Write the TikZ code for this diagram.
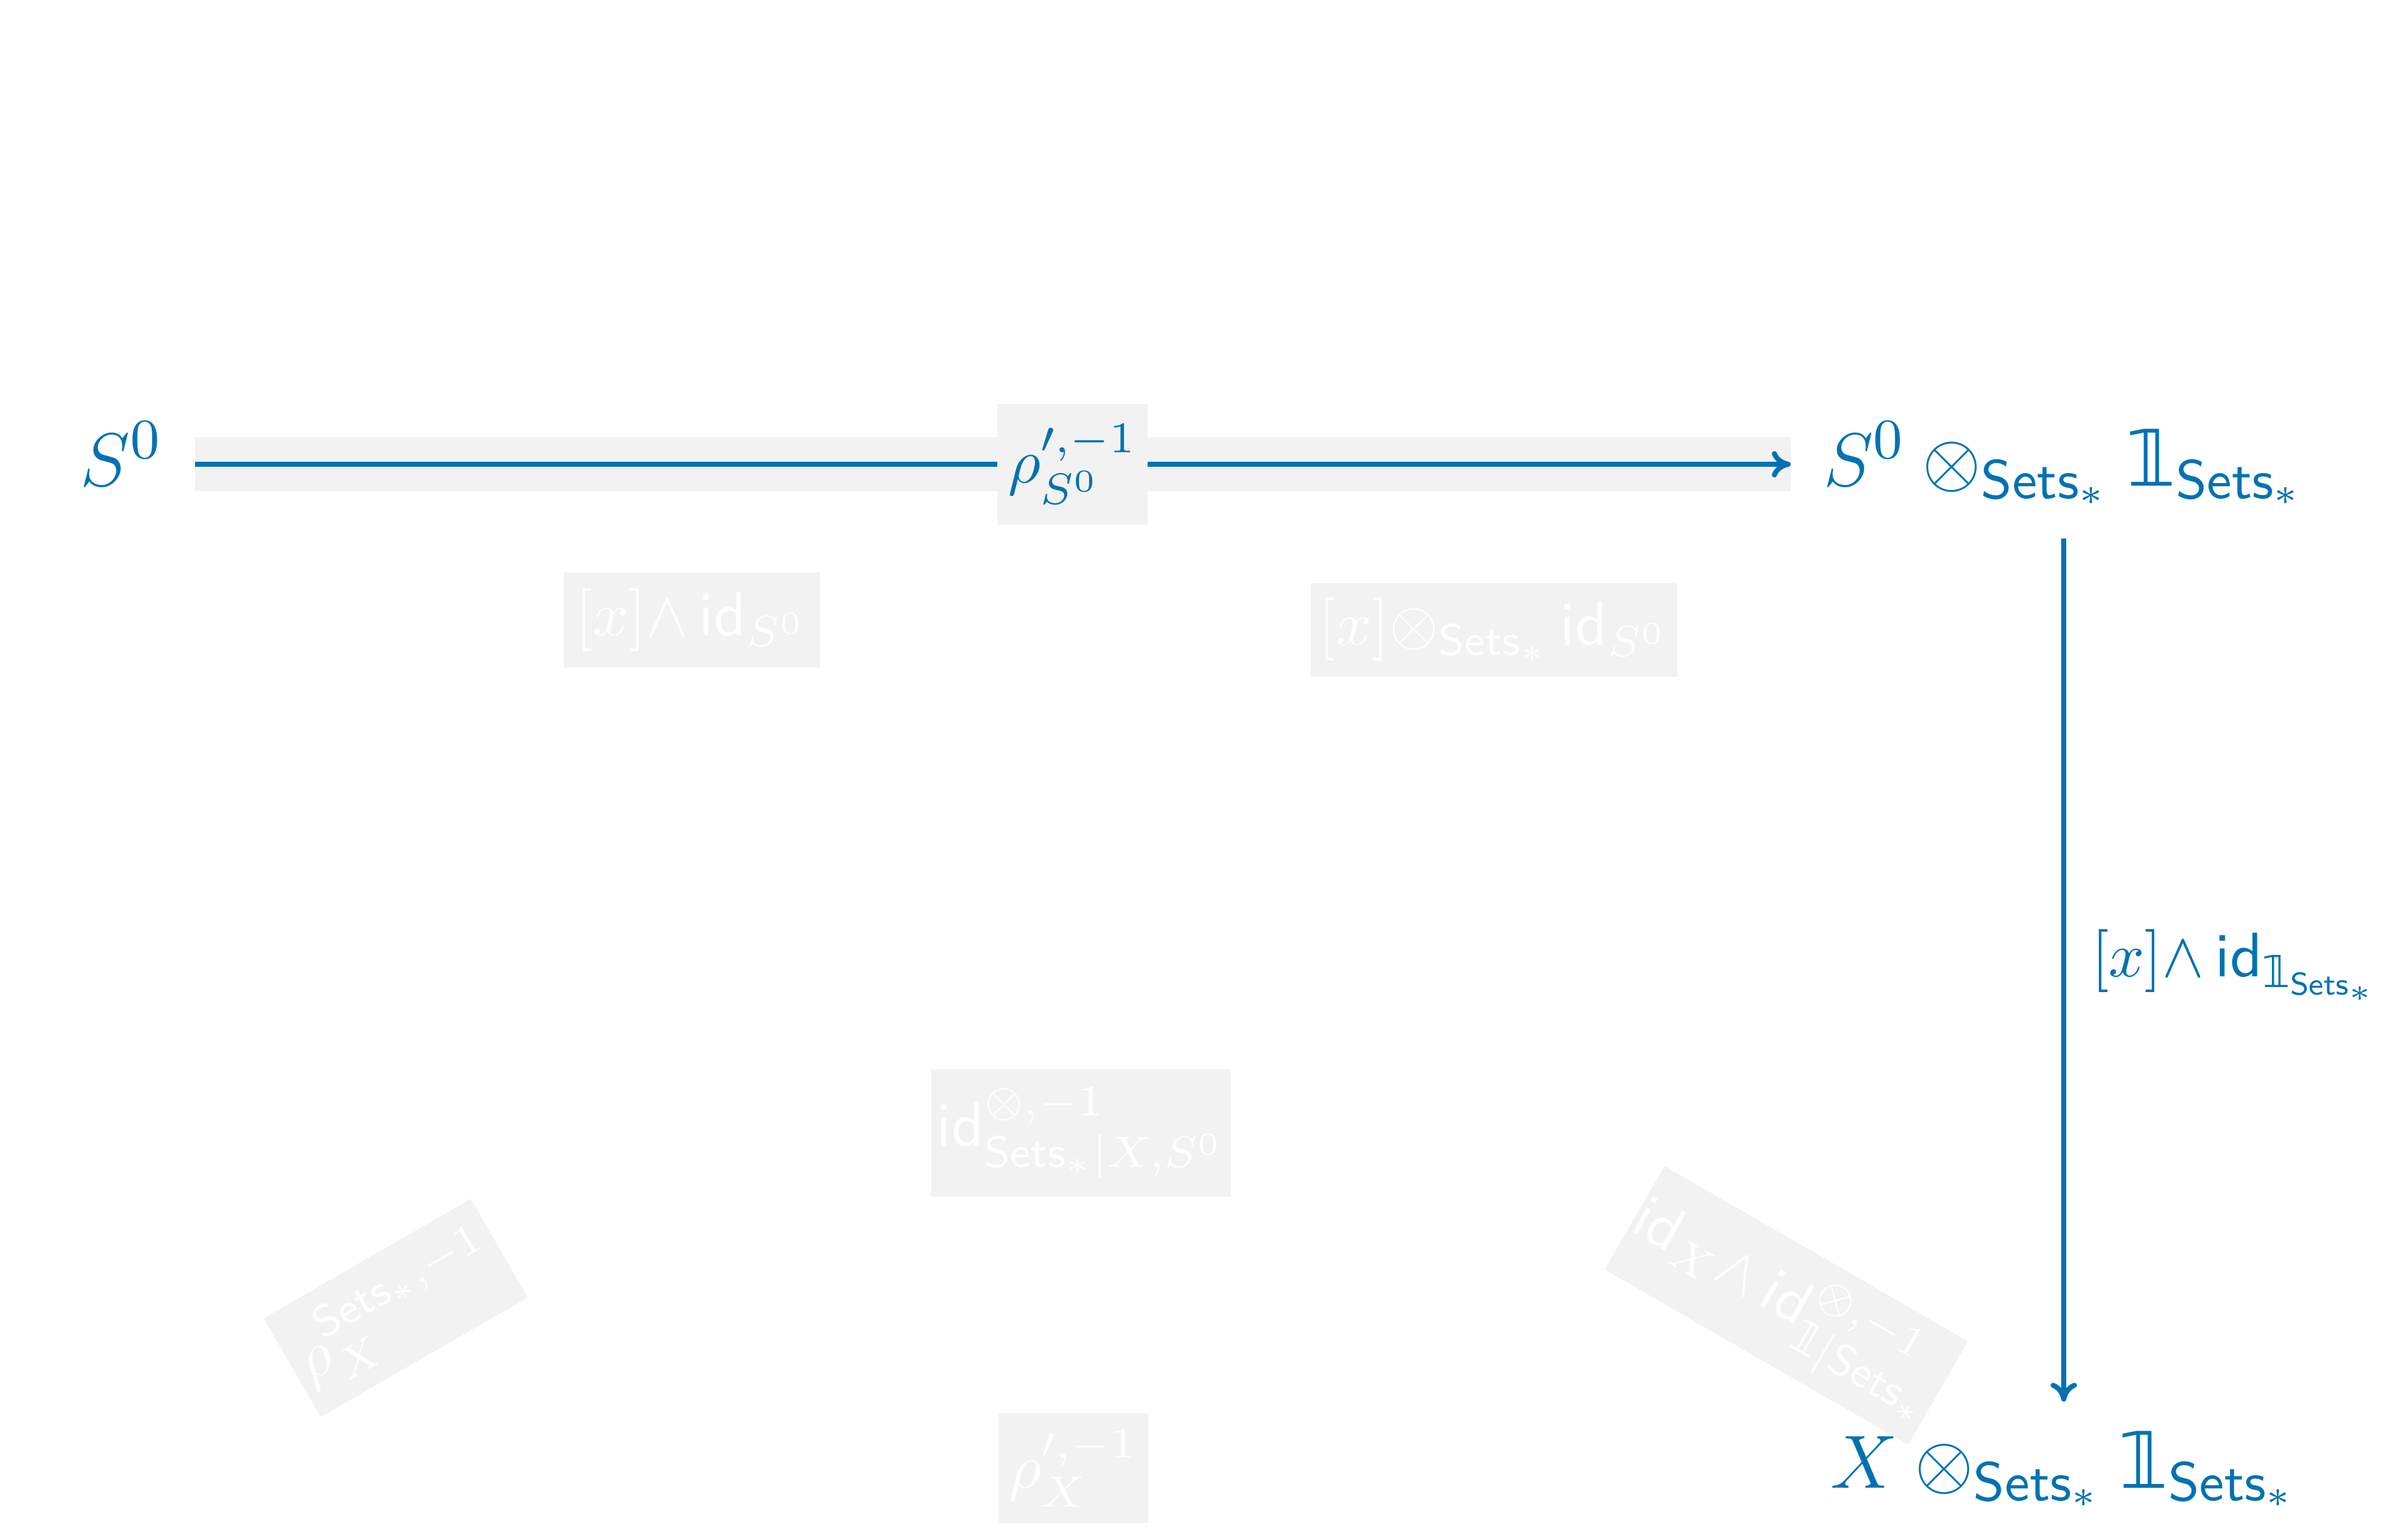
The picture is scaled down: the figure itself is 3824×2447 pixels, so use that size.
\documentclass[tikz,border=0pt]{standalone}
\usepackage{amsmath,amssymb}
\usepackage{fontspec}
\newfontfamily\djv{DejaVu Sans}
\usetikzlibrary{arrows.meta}
\definecolor{dblue}{RGB}{0,114,178}
\definecolor{fadegray}{RGB}{242,242,242}
\newcommand{\Setsst}{\mathsf{Sets}_*}
\newcommand{\uno}{\text{\djv 𝟙}}
\begin{document}
\begin{tikzpicture}[x=0.1pt,y=-0.1pt,
  main/.style={text=dblue, font=\fontsize{12.4}{15}\selectfont, inner xsep=5pt, inner ysep=3.5pt, text height=10pt, text depth=3.2pt},
  lbl/.style={text=dblue, font=\fontsize{10}{12}\selectfont},
  fade/.style={fill=fadegray, text=white, font=\fontsize{10}{12}\selectfont, inner sep=0pt},
  arr/.style={draw=dblue, line width=0.8pt, -{To[length=3pt,width=4.2pt]}},
]
\useasboundingbox (0,0) rectangle (3824,2447);
% visible nodes
\node[main, anchor=base] (s0) at (193,772) {$S^0$};
\node[main, anchor=base] (tr) at (3280,772) {$S^0\otimes_{\Setsst}\uno_{\Setsst}$};
\node[main, anchor=base] (br) at (3280,2365) {$X\otimes_{\Setsst}\uno_{\Setsst}$};
% highlight band
\draw[fadegray, line width=8.6pt] (s0.east) -- (tr.west);
% arrows
\draw[arr] (s0.east) -- (tr.west)
  node[pos=0.55, lbl, fill=fadegray, minimum width=23.9pt, minimum height=19.2pt, inner sep=0pt] (l1) {$\rho'^{,-1}_{S^0}$};
\draw[arr, shorten <=1.5pt] (tr.south) -- (br.north)
  node[midway, right, lbl, inner sep=4pt] (l2) {$[x]{\wedge}\,\mathsf{id}_{\uno_{\Setsst}}$};
% faded labels
\node[fade, minimum width=40.7pt, minimum height=15.1pt] (f1) at (1099,985) {$[x]{\wedge}\,\mathsf{id}_{S^0}$};
\node[fade, minimum width=58.3pt, minimum height=14.9pt] (f2) at (2374,1001) {$[x]{\otimes}_{\Setsst}\,\mathsf{id}_{S^0}$};
\node[fade, minimum width=47.6pt, minimum height=20.2pt] (f3) at (1718,1801) {$\mathsf{id}^{\otimes,-1}_{\Setsst|X,S^0}$};
\node[fade, rotate=30, minimum width=38pt, minimum height=18.1pt] (f4) at (629,2079) {$\rho^{\Setsst,-1}_X$};
\node[fade, rotate=-30, minimum width=55.7pt, minimum height=19pt] (f5) at (2839,2075) {$\mathsf{id}_X{\wedge}\,\mathsf{id}^{\otimes,-1}_{\uno|\Setsst}$};
\node[fade, minimum width=23.8pt, minimum height=17.4pt] (f6) at (1706,2334) {$\rho'^{,-1}_X$};
\end{tikzpicture}
\end{document}
